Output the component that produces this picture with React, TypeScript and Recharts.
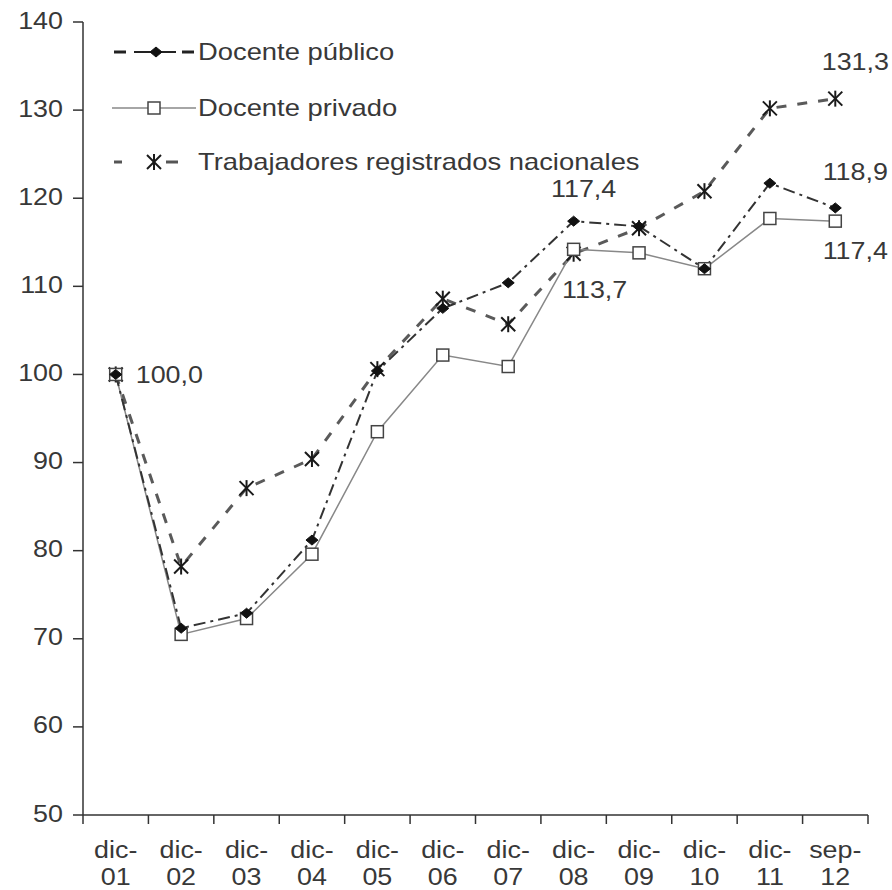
import React from 'react';
import { LineChart, Line, XAxis, YAxis, LabelList } from 'recharts';

const categories = ['dic-01', 'dic-02', 'dic-03', 'dic-04', 'dic-05', 'dic-06', 'dic-07', 'dic-08', 'dic-09', 'dic-10', 'dic-11', 'sep-12'];
const docentePublico = [100.0, 71.2, 72.9, 81.2, 100.4, 107.5, 110.4, 117.4, 116.8, 112.0, 121.7, 118.9];
const docentePrivado = [100.0, 70.5, 72.3, 79.6, 93.5, 102.2, 100.9, 114.2, 113.8, 112.0, 117.7, 117.4];
const trabajadores = [100.0, 78.2, 87.1, 90.4, 100.6, 108.6, 105.7, 113.7, 116.6, 120.8, 130.2, 131.3];
const labelsPublico = ['', '', '', '', '', '', '', '117,4', '', '', '', '118,9'];
const labelsPrivado = ['100,0', '', '', '', '', '', '', '', '', '', '', '117,4'];
const labelsTrabajadores = ['', '', '', '', '', '', '', '113,7', '', '', '', '131,3'];
const yTicks = [50, 60, 70, 80, 90, 100, 110, 120, 130, 140];
const seriesNames = ['Docente público', 'Docente privado', 'Trabajadores registrados nacionales'];

const data = categories.map((c, i) => ({
  i,
  cat: c,
  pub: docentePublico[i],
  priv: docentePrivado[i],
  trab: trabajadores[i],
  pubLab: labelsPublico[i],
  privLab: labelsPrivado[i],
  trabLab: labelsTrabajadores[i],
}));

const boundaryTicks = categories.map((_, i) => i - 0.5).concat([categories.length - 0.5]);
const centerTicks = categories.map((_, i) => i);

const FONT = '"Liberation Sans", Arial, sans-serif';
const TXT = '#383838';
const FS = 24;
const SX = 1.12;

const Diamond = (props: any) => {
  const { cx, cy } = props;
  if (cx == null || cy == null) return <g />;
  const r = 5;
  return <polygon points={`${cx},${cy - r} ${cx + r + 1},${cy} ${cx},${cy + r} ${cx - r - 1},${cy}`} fill="#111" stroke="#111" />;
};
const Square = (props: any) => {
  const { cx, cy } = props;
  if (cx == null || cy == null) return <g />;
  return <rect x={cx - 6} y={cy - 6} width={12} height={12} fill="#fff" stroke="#444" strokeWidth={1.5} />;
};
const Star = (props: any) => {
  const { cx, cy } = props;
  if (cx == null || cy == null) return <g />;
  const r = 7;
  return (
    <g stroke="#1a1a1a" strokeWidth={2}>
      <line x1={cx - r} y1={cy - r} x2={cx + r} y2={cy + r} />
      <line x1={cx - r} y1={cy + r} x2={cx + r} y2={cy - r} />
      <line x1={cx} y1={cy - r - 1} x2={cx} y2={cy + r + 1} />
    </g>
  );
};

const SText = ({ x, y, anchor, children }: any) => (
  <g transform={`translate(${x},${y}) scale(${SX},1)`}>
    <text x={0} y={0} textAnchor={anchor} fontSize={FS} fontFamily={FONT} fill={TXT}>
      {children}
    </text>
  </g>
);

const makeLabel = (offsets: Record<string, [number, number, string]>) => (props: any) => {
  const { x, y, value } = props;
  if (!value) return <g />;
  const o = offsets[value] || [0, -20, 'middle'];
  return <SText x={x + o[0]} y={y + o[1] + 8.5} anchor={o[2]}>{value}</SText>;
};

const pubLabel = makeLabel({ '117,4': [10, -33, 'middle'], '118,9': [20, -36, 'middle'] });
const privLabel = makeLabel({ '100,0': [20, 0, 'start'], '117,4': [20, 29, 'middle'] });
const trabLabel = makeLabel({ '113,7': [21, 36, 'middle'], '131,3': [20, -37, 'middle'] });

const EmptyTick = () => <g />;

const CatTick = (props: any) => {
  const { x, y, payload } = props;
  const label = categories[payload.value] || '';
  const parts = label.split('-');
  return (
    <g>
      <SText x={x} y={y + 31} anchor="middle">{parts[0] + '-'}</SText>
      <SText x={x} y={y + 58} anchor="middle">{parts[1]}</SText>
    </g>
  );
};

const YTick = (props: any) => {
  const { x, y, payload } = props;
  return <SText x={x} y={y + 6.5} anchor="end">{payload.value}</SText>;
};

const LegendRow = ({ top, kind, text }: { top: number; kind: number; text: string }) => (
  <div style={{ position: 'absolute', left: 110, top: top - 12, height: 24, display: 'flex', alignItems: 'center' }}>
    <svg width={88} height={24} style={{ display: 'block', flex: 'none' }}>
      {kind === 0 && (
        <g>
          <line x1={4} y1={12} x2={16} y2={12} stroke="#222" strokeWidth={3} />
          <line x1={24} y1={12} x2={66} y2={12} stroke="#222" strokeWidth={2} />
          <line x1={72} y1={12} x2={84} y2={12} stroke="#222" strokeWidth={3} />
          <Diamond cx={46} cy={12} />
        </g>
      )}
      {kind === 1 && (
        <g>
          <line x1={2} y1={12} x2={86} y2={12} stroke="#888" strokeWidth={1.5} />
          <Square cx={44} cy={12} />
        </g>
      )}
      {kind === 2 && (
        <g>
          <line x1={4} y1={12} x2={12} y2={12} stroke="#555" strokeWidth={3} />
          <line x1={56} y1={12} x2={68} y2={12} stroke="#555" strokeWidth={3} />
          <Star cx={44} cy={12} />
        </g>
      )}
    </svg>
    <span
      style={{
        display: 'inline-block',
        fontSize: FS,
        lineHeight: '24px',
        fontFamily: FONT,
        color: TXT,
        whiteSpace: 'nowrap',
        transform: 'scaleX(1.14)',
        transformOrigin: 'left center',
      }}
    >
      {text}
    </span>
  </div>
);

export default function App() {
  return (
    <div style={{ position: 'absolute', left: 0, top: 0, width: 892, height: 890, background: '#fff', overflow: 'hidden' }}>
      <LineChart width={892} height={890} data={data} margin={{ top: 22, right: 24, left: 0, bottom: 0 }}>
        <XAxis
          xAxisId="b"
          dataKey="i"
          type="number"
          domain={[-0.5, categories.length - 0.5]}
          ticks={boundaryTicks}
          tick={EmptyTick}
          tickSize={9}
          height={12}
          axisLine={{ stroke: '#333', strokeWidth: 1.5 }}
          tickLine={{ stroke: '#333', strokeWidth: 1.5 }}
          interval={0}
          allowDataOverflow
        />
        <XAxis
          xAxisId="c"
          dataKey="i"
          type="number"
          domain={[-0.5, categories.length - 0.5]}
          ticks={centerTicks}
          tick={CatTick}
          tickSize={0}
          tickMargin={0}
          height={63}
          axisLine={false}
          tickLine={false}
          interval={0}
        />
        <YAxis
          domain={[50, 140]}
          ticks={yTicks}
          width={83}
          tickSize={10}
          tickMargin={10}
          tick={YTick}
          interval={0}
          axisLine={{ stroke: '#333', strokeWidth: 1.5 }}
          tickLine={{ stroke: '#333', strokeWidth: 1.5 }}
        />
        <Line xAxisId="b" dataKey="trab" name={seriesNames[2]} stroke="#5a5a5a" strokeWidth={3} strokeDasharray="10 11" dot={<Star />} isAnimationActive={false}>
          <LabelList dataKey="trabLab" content={trabLabel} />
        </Line>
        <Line xAxisId="b" dataKey="priv" name={seriesNames[1]} stroke="#888" strokeWidth={1.5} dot={<Square />} isAnimationActive={false}>
          <LabelList dataKey="privLab" content={privLabel} />
        </Line>
        <Line xAxisId="b" dataKey="pub" name={seriesNames[0]} stroke="#333" strokeWidth={2} strokeDasharray="12 5 3 5" dot={<Diamond />} isAnimationActive={false}>
          <LabelList dataKey="pubLab" content={pubLabel} />
        </Line>
      </LineChart>
      <LegendRow top={52} kind={0} text={seriesNames[0]} />
      <LegendRow top={108} kind={1} text={seriesNames[1]} />
      <LegendRow top={162} kind={2} text={seriesNames[2]} />
    </div>
  );
}
